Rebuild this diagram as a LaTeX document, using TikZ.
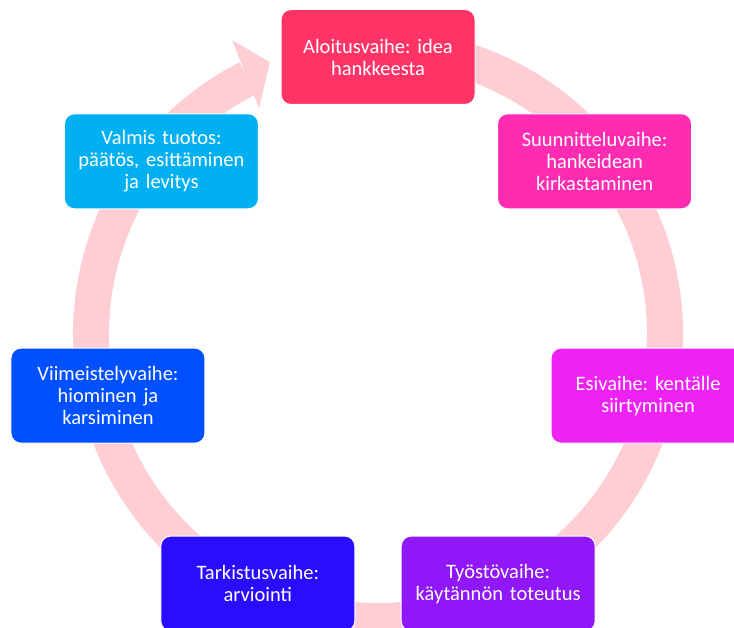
\documentclass[tikz,border=0pt]{standalone}
\usepackage{fontspec}
\setmainfont{Carlito}
\usepackage{tikz}
\usetikzlibrary{calc}
\frenchspacing
\definecolor{ringpink}{HTML}{FFCDD4}
\definecolor{aloitus}{HTML}{FF3366}
\definecolor{suunnittelu}{HTML}{FF2BB0}
\definecolor{esi}{HTML}{EE22F5}
\definecolor{tyosto}{HTML}{8F17F8}
\definecolor{tarkistus}{HTML}{2A0DFF}
\definecolor{viimeistely}{HTML}{0050FF}
\definecolor{valmis}{HTML}{00B0F0}
\tikzset{phase/.style={draw=white, line width=1pt, rounded corners=10pt,
    minimum width=194pt, minimum height=95pt, text width=188pt, inner sep=0pt,
    align=center, text=white, font=\fontsize{20.5}{22}\selectfont}}

\begin{document}
\begin{tikzpicture}[x=1pt,y=1pt]
		\useasboundingbox (0,0) rectangle (734,628);
		\coordinate (c) at (378,294);
		% ring with head pointing at the first phase
		\draw[ringpink, line width=36pt] ([shift={(c)}]85:287) arc[start angle=85, end angle=-243, radius=287];
		\fill[ringpink] ([shift={(c)}]116.4:328) -- ([shift={(c)}]111.7:292.6) -- ([shift={(c)}]117.8:255) -- cycle;
		\foreach \t/\col[count=\i] in {{Aloitusvaihe: idea\\hankkeesta}/aloitus, {Suunnitteluvaihe:\\hankeidean\\kirkastaminen}/suunnittelu, {Esivaihe: kentälle\\siirtyminen}/esi, {Työstövaihe:\\käytännön toteutus}/tyosto, {Tarkistusvaihe:\\arviointi}/tarkistus, {Viimeistelyvaihe:\\hiominen ja\\karsiminen}/viimeistely, {Valmis tuotos:\\päätös, esittäminen\\ja levitys}/valmis}{
		\node[phase, fill=\col] (p-\i) at ($(c)+({90-(\i-1)*360/7}:277)$) {\t};
		}
		\end{tikzpicture}
\end{document}
